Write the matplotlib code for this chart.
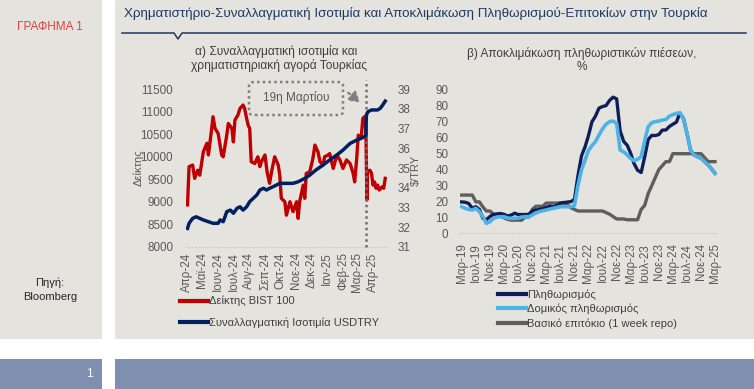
import matplotlib
matplotlib.use("Agg")
import matplotlib.pyplot as plt
from matplotlib.lines import Line2D
from matplotlib.patches import Rectangle, FancyBboxPatch, FancyArrowPatch
from matplotlib import font_manager
import pandas as pd

# ---------------- DATA ----------------
bist_dates = ["2024-04-02", "2024-04-05", "2024-04-12", "2024-04-16", "2024-04-22", "2024-04-26",
              "2024-05-03", "2024-05-10", "2024-05-13", "2024-05-19", "2024-05-22", "2024-05-26",
              "2024-06-01", "2024-06-08", "2024-06-11", "2024-06-18", "2024-06-21", "2024-06-28",
              "2024-07-01", "2024-07-04", "2024-07-10", "2024-07-14", "2024-07-20", "2024-07-23",
              "2024-07-27", "2024-07-30", "2024-08-02", "2024-08-05", "2024-08-12", "2024-08-18",
              "2024-08-22", "2024-08-25", "2024-09-01", "2024-09-05", "2024-09-10", "2024-09-14",
              "2024-09-20", "2024-09-27", "2024-09-30", "2024-10-03", "2024-10-10", "2024-10-13",
              "2024-10-20", "2024-10-26", "2024-11-02", "2024-11-05", "2024-11-08", "2024-11-15",
              "2024-11-18", "2024-11-21", "2024-11-28", "2024-12-04", "2024-12-08", "2024-12-14",
              "2024-12-18", "2024-12-24", "2024-12-27", "2025-01-03", "2025-01-06", "2025-01-13",
              "2025-01-20", "2025-01-26", "2025-02-01", "2025-02-08", "2025-02-15", "2025-02-21",
              "2025-02-24", "2025-02-28", "2025-03-03", "2025-03-09", "2025-03-12", "2025-03-15",
              "2025-03-18", "2025-03-20", "2025-03-21", "2025-03-26", "2025-03-29", "2025-04-01",
              "2025-04-04", "2025-04-07", "2025-04-10", "2025-04-13", "2025-04-19", "2025-04-22",
              "2025-04-25"]
bist_values = [8930, 9780, 9815, 9520, 9700, 9590,
               10110, 10300, 10040, 10590, 10890, 10630,
               10520, 10040, 10000, 10480, 10740, 10630,
               10330, 10815, 10930, 11075, 11150, 11075,
               10850, 10700, 10630, 9890, 9850, 10000,
               9780, 9890, 10040, 9670, 9410, 9670,
               10000, 9815, 9590, 9075, 9000, 8700,
               9000, 8780, 9000, 8630, 9000, 9370,
               9075, 9630, 9670, 9960, 10260, 10110,
               9890, 9815, 10000, 10040, 10070, 9740,
               10040, 9930, 9740, 9930, 9850, 9630,
               9440, 9960, 10480, 10440, 10850, 10890,
               10630, 9040, 9670, 9700, 9630, 9370,
               9440, 9300, 9370, 9260, 9330, 9300,
               9520]

usd_dates = ["2024-04-02", "2024-04-05", "2024-04-12", "2024-04-19", "2024-04-26", "2024-05-03",
             "2024-05-13", "2024-05-22", "2024-06-01", "2024-06-05", "2024-06-11", "2024-06-18",
             "2024-06-25", "2024-07-01", "2024-07-08", "2024-07-14", "2024-07-20", "2024-07-27",
             "2024-08-02", "2024-08-09", "2024-08-16", "2024-08-22", "2024-08-29", "2024-09-04",
             "2024-09-10", "2024-09-17", "2024-09-24", "2024-09-30", "2024-10-13", "2024-10-26",
             "2024-11-05", "2024-11-18", "2024-11-28", "2024-12-10", "2024-12-24", "2025-01-06",
             "2025-01-20", "2025-02-01", "2025-02-15", "2025-02-28", "2025-03-09", "2025-03-15",
             "2025-03-18", "2025-03-19", "2025-03-22", "2025-03-29", "2025-04-04", "2025-04-10",
             "2025-04-15", "2025-04-20", "2025-04-25"]
usd_values = [31.93, 32.19, 32.44, 32.52, 32.44, 32.36,
              32.27, 32.19, 32.19, 32.36, 32.27, 32.78,
              32.86, 32.70, 32.95, 33.03, 32.86, 33.03,
              33.29, 33.46, 33.63, 33.88, 33.97, 33.88,
              33.97, 34.05, 34.14, 34.22, 34.22, 34.22,
              34.30, 34.47, 34.64, 34.90, 35.15, 35.41,
              35.66, 35.91, 36.25, 36.42, 36.51, 36.59,
              36.65, 37.69, 37.86, 37.95, 37.95, 37.95,
              38.03, 38.20, 38.40]

a_tick_dates = ["2024-04-01", "2024-05-01", "2024-06-01", "2024-07-01", "2024-08-01", "2024-09-01",
                "2024-10-01", "2024-11-01", "2024-12-01", "2025-01-01", "2025-02-01", "2025-03-01",
                "2025-04-01"]
a_tick_labels = ["Απρ-24", "Μαϊ-24", "Ιουν-24", "Ιουλ-24", "Αυγ-24", "Σεπ-24", "Οκτ-24",
                 "Νοε-24", "Δεκ-24", "Ιαν-25", "Φεβ-25", "Μαρ-25", "Απρ-25"]
event_date = "2025-03-19"

b_start_month = "2019-03-01"
cpi = [19.7, 19.5, 18.7, 15.7, 16.7, 15.0, 9.3, 8.6, 10.6, 11.8,
       12.2, 12.4, 11.9, 10.9, 11.4, 12.6, 11.8, 11.8, 11.8, 11.9, 14.0, 14.6,
       15.0, 15.6, 16.2, 17.1, 16.6, 17.5, 19.0, 19.3, 19.6, 19.9, 21.3, 36.1,
       48.7, 54.4, 61.1, 70.0, 73.5, 78.6, 79.6, 80.2, 83.5, 85.5, 84.4, 64.3,
       57.7, 55.2, 50.5, 43.7, 39.6, 38.2, 47.8, 58.9, 61.5, 61.4, 62.0, 64.8,
       64.9, 67.1, 68.5, 69.8, 75.5, 72.0, 63.0, 52.3, 49.2, 48.1, 47.1, 45.0,
       42.9, 40.3, 37.7]
core = [16.7, 15.7, 15.0, 14.6, 15.7, 13.6, 10.4, 6.2, 7.3, 9.4,
        10.2, 10.4, 10.4, 9.6, 9.4, 9.4, 9.6, 10.2, 10.4, 10.4, 11.5, 12.8,
        13.6, 14.2, 14.6, 15.2, 15.7, 16.2, 16.7, 16.7, 16.7, 16.7, 17.5, 30.0,
        40.0, 46.0, 52.0, 55.0, 57.5, 61.7, 65.5, 68.5, 70.1, 70.5, 69.0, 52.3,
        51.2, 49.2, 47.0, 45.6, 46.5, 48.1, 58.0, 67.0, 69.5, 70.1, 70.5, 71.1,
        71.5, 73.6, 74.5, 75.3, 75.7, 72.0, 63.0, 52.3, 49.2, 48.1, 47.1, 45.0,
        42.9, 40.3, 37.7]
repo = [24, 24, 24, 24, 19.75, 19.75, 16.5, 14, 14, 12,
        11.25, 10.75, 9.75, 8.75, 8.25, 8.25, 8.25, 8.25, 10.25, 10.25, 15, 17,
        17, 17, 19, 19, 19, 19, 19, 19, 18, 16, 15, 14,
        14, 14, 14, 14, 14, 14, 14, 13, 12, 10.5, 9, 9,
        9, 8.5, 8.5, 8.5, 8.5, 15, 17.5, 25, 30, 35, 40, 42.5,
        45, 45, 50, 50, 50, 50, 50, 50, 50, 50, 50, 47.5,
        45, 45, 45]
b_tick_labels = ["Μαρ-19", "Ιουλ-19", "Νοε-19", "Μαρ-20", "Ιουλ-20", "Νοε-20", "Μαρ-21",
                 "Ιουλ-21", "Νοε-21", "Μαρ-22", "Ιουλ-22", "Νοε-22", "Μαρ-23", "Ιουλ-23",
                 "Νοε-23", "Μαρ-24", "Ιουλ-24", "Νοε-24", "Μαρ-25"]

# ---------------- STYLE ----------------
names = {f.name for f in font_manager.fontManager.ttflist}
FAM = "Liberation Sans" if "Liberation Sans" in names else "DejaVu Sans"
plt.rcParams["font.family"] = [FAM, "DejaVu Sans"]

W, H = 754, 389
BG = "#E4E3DE"
BAR = "#7F8FAF"
TXT = "#595959"
RED = "#C00000"
NAVY_A = "#002060"
NAVY_B = "#0F1E5A"
LBLUE = "#4DB3E6"
GRAY = "#5E5E5E"
TICK = 8.4


def fx(x):
    return x / W


def fy(y):
    return 1 - y / H


fig = plt.figure(figsize=(W / 100, H / 100), dpi=100)
fig.patch.set_facecolor("white")

# panels
for (x0, y0, x1, y1, c) in [(0, 0, 101.7, 339.3, BG), (115, 0, W, 339.3, BG),
                            (0, 359, 101.7, H, BAR), (115, 359, W, H, BAR)]:
    fig.add_artist(Rectangle((fx(x0), fy(y1)), fx(x1) - fx(x0), fy(y0) - fy(y1),
                             transform=fig.transFigure, facecolor=c, edgecolor="none", zorder=0))

# ---------------- CHART A ----------------
a_left, a_right, a_top, a_bot = 185.5, 388.3, 89.3, 246.7
ax = fig.add_axes([fx(a_left), fy(a_bot), fx(a_right) - fx(a_left), fy(a_top) - fy(a_bot)])
ax.set_facecolor("none")
bd = pd.to_datetime(bist_dates)
ud = pd.to_datetime(usd_dates)
l1, = ax.plot(bd, bist_values, color=RED, lw=2.4, solid_joinstyle="round", zorder=3)
ax.set_ylim(8000, 11500)
ax.set_yticks(range(8000, 11501, 500))
ax.set_xlim(pd.Timestamp("2024-03-29"), pd.Timestamp("2025-05-01"))
ax.set_xticks(pd.to_datetime(a_tick_dates))
ax.set_xticklabels(a_tick_labels, rotation=90)
ax2 = ax.twinx()
ax2.set_facecolor("none")
l2, = ax2.plot(ud, usd_values, color=NAVY_A, lw=2.5, solid_joinstyle="round", zorder=4)
ax2.set_ylim(31, 39)
ax2.set_yticks(range(31, 40))
for a in (ax, ax2):
    for s in a.spines.values():
        s.set_visible(False)
    a.tick_params(length=0, labelsize=TICK, labelcolor=TXT)
ax.tick_params(axis="y", pad=9)
ax.tick_params(axis="x", pad=4)
ax2.tick_params(axis="y", pad=7)
ax.spines["bottom"].set_visible(True)
ax.spines["bottom"].set_color("#D0D0D0")
ax.spines["bottom"].set_linestyle(":")
ax.axvline(pd.Timestamp(event_date), ymin=0, ymax=(a_bot - 80) / (a_bot - a_top),
           color="#6E6E6E", lw=1.8, ls=(0, (1, 1.3)), clip_on=False, zorder=5)

fig.text(fx(138), fy(168), "Δείκτης", rotation=90, ha="center", va="center", fontsize=8, color=TXT)
fig.text(fx(416), fy(170), "$/TRY", rotation=90, ha="center", va="center", fontsize=8, color=TXT)

# annotation box
box = FancyBboxPatch((fx(249), fy(115)), fx(343) - fx(249), fy(82) - fy(115),
                     boxstyle="round,pad=0,rounding_size=0.008", transform=fig.transFigure,
                     facecolor="none", edgecolor="#7F7F7F", lw=1.8, ls=(0, (1, 1.3)), zorder=6)
fig.add_artist(box)
fig.text(fx(296), fy(98), "19η Μαρτίου", ha="center", va="center", fontsize=8.5, color=TXT)
arr = FancyArrowPatch((fx(346), fy(91)), (fx(362), fy(104)), transform=fig.transFigure,
                      arrowstyle="-|>,head_length=4,head_width=2.5", color="#7F7F7F",
                      lw=1.6, ls=(0, (1, 1.3)), mutation_scale=1.5, zorder=6)
fig.add_artist(arr)

leg_a = ax2.legend([l1, l2], ["Δείκτης BIST 100", "Συναλλαγματική Ισοτιμία USDTRY"],
                   loc="upper left", bbox_to_anchor=(fx(180), fy(296)),
                   bbox_transform=fig.transFigure, frameon=False, fontsize=8,
                   handlelength=2.5, handletextpad=0.15, labelspacing=0.95,
                   borderpad=0, borderaxespad=0)
for t in leg_a.get_texts():
    t.set_color("#404040")
for h in leg_a.get_lines():
    h.set_linewidth(3)

# ---------------- CHART B ----------------
b_left, b_right, b_top, b_bot = 459.5, 717.2, 90.0, 233.3
bx = fig.add_axes([fx(b_left), fy(b_bot), fx(b_right) - fx(b_left), fy(b_top) - fy(b_bot)])
bx.set_facecolor("none")
months = pd.date_range(b_start_month, periods=len(cpi), freq="MS")
m1, = bx.plot(months, cpi, color=NAVY_B, lw=2.4, solid_joinstyle="round", zorder=3)
m2, = bx.plot(months, core, color=LBLUE, lw=2.6, solid_joinstyle="round", zorder=4)
m3, = bx.plot(months, repo, color=GRAY, lw=2.4, solid_joinstyle="round", zorder=2)
bx.set_ylim(0, 90)
bx.set_yticks(range(0, 91, 10))
bx.set_xlim(pd.Timestamp("2019-02-10"), pd.Timestamp("2025-03-20"))
bx.set_xticks(months[::4])
bx.set_xticklabels(b_tick_labels, rotation=90)
for s in bx.spines.values():
    s.set_visible(False)
bx.spines["bottom"].set_visible(True)
bx.spines["bottom"].set_color("#D0D0D0")
bx.spines["bottom"].set_linestyle(":")
bx.tick_params(length=0, labelsize=TICK, labelcolor=TXT)
bx.tick_params(axis="y", pad=8)
bx.tick_params(axis="x", pad=7)

leg_b = bx.legend([m1, m2, m3], ["Πληθωρισμός", "Δομικός πληθωρισμός", "Βασικό επιτόκιο (1 week repo)"],
                  loc="upper left", bbox_to_anchor=(fx(498), fy(289)),
                  bbox_transform=fig.transFigure, frameon=False, fontsize=8,
                  handlelength=2.5, handletextpad=0.1, labelspacing=0.37,
                  borderpad=0, borderaxespad=0)
for t in leg_b.get_texts():
    t.set_color("#404040")
for h in leg_b.get_lines():
    h.set_linewidth(3)

# ---------------- TEXTS ----------------
title = fig.text(fx(124), fy(14), "Χρηματιστήριο-Συναλλαγματική Ισοτιμία και Αποκλιμάκωση Πληθωρισμού-Επιτοκίων στην Τουρκία",
                 ha="left", va="center", fontsize=10, color="#1F3864")
fig.add_artist(Line2D([fx(122), fx(174), fx(178), fx(182), fx(746)],
                      [fy(33), fy(33), fy(39), fy(33), fy(33)], transform=fig.transFigure,
                      color="#1F3864", lw=1.1))
fig.text(fx(50), fy(27), "ΓΡΑΦΗΜΑ 1", ha="center", va="center", fontsize=8.5, color="#E0413B")
fig.text(fx(50), fy(283), "Πηγή:", ha="center", va="center", fontsize=8, color="#262626")
fig.text(fx(50), fy(297), "Bloomberg", ha="center", va="center", fontsize=8, color="#262626")
fig.text(fx(89), fy(374), "1", ha="center", va="center", fontsize=8.5, color="white")

ta1 = fig.text(fx(276.5), fy(52), "α) Συναλλαγματική ισοτιμία και", ha="center", va="center",
               fontsize=9, color="#404040")
ta2 = fig.text(fx(279), fy(66), "χρηματιστηριακή αγορά Τουρκίας", ha="center", va="center",
               fontsize=9, color="#404040")
tb1 = fig.text(fx(581.7), fy(53), "β) Αποκλιμάκωση πληθωριστικών πιέσεων,", ha="center", va="center",
               fontsize=9, color="#404040")
tb2 = fig.text(fx(581.7), fy(67), "%", ha="center", va="center", fontsize=9, color="#404040")

# fit widths of main headings to reference
fig.canvas.draw()
r = fig.canvas.get_renderer()
for t, target in [(title, 584), (ta1, 163), (tb1, 230)]:
    w = t.get_window_extent(r).width
    t.set_fontsize(t.get_fontsize() * target / w)
ta2.set_fontsize(ta1.get_fontsize())
tb2.set_fontsize(tb1.get_fontsize())

fig.savefig("out.png", dpi=100, facecolor="white")
